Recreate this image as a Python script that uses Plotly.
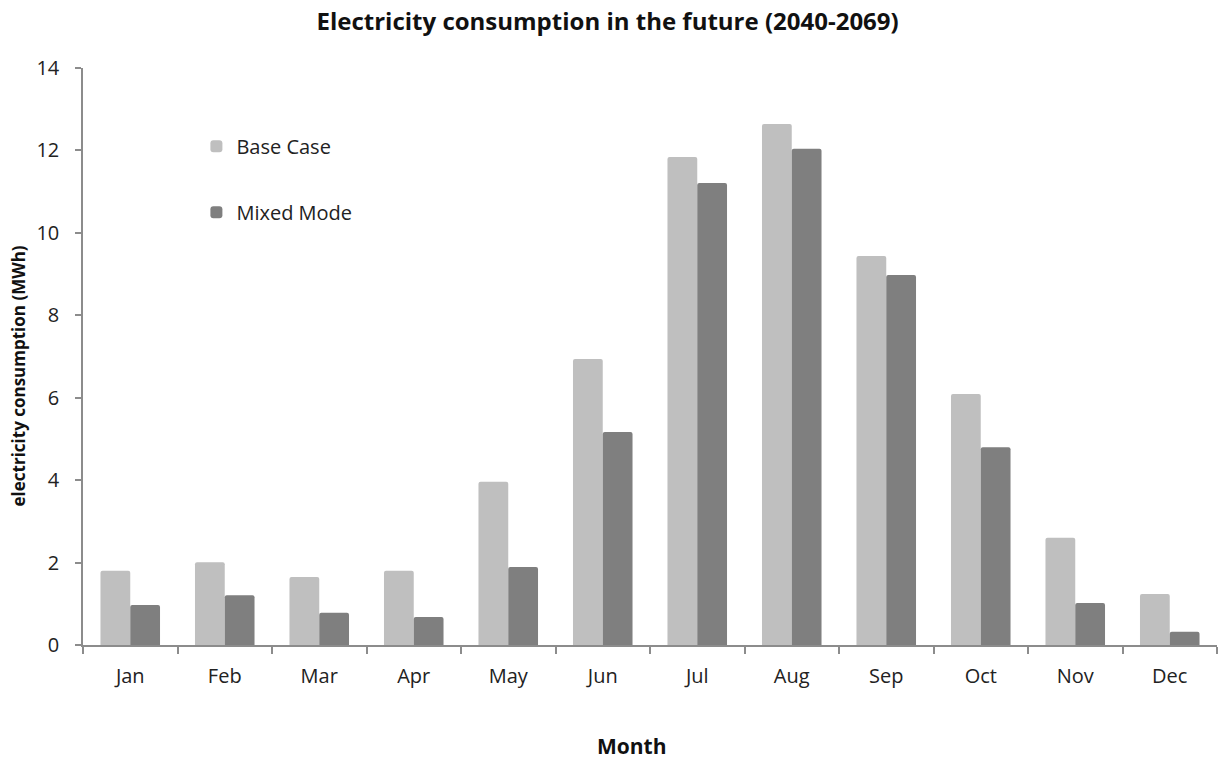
import plotly.graph_objects as go

# Monthly electricity consumption (MWh), 2040-2069 projection
months = ["Jan", "Feb", "Mar", "Apr", "May", "Jun", "Jul", "Aug", "Sep", "Oct", "Nov", "Dec"]
base_case = [1.80, 2.01, 1.65, 1.80, 3.96, 6.94, 11.84, 12.64, 9.44, 6.09, 2.60, 1.24]
mixed_mode = [0.97, 1.21, 0.78, 0.68, 1.89, 5.17, 11.21, 12.04, 8.98, 4.80, 1.02, 0.32]
y_ticks = [0, 2, 4, 6, 8, 10, 12, 14]

FONT = "Open Sans, Liberation Sans, sans-serif"
AXIS_GREY = "#8c8c8c"

fig = go.Figure()
fig.add_trace(go.Bar(x=months, y=base_case, name="Base Case",
                     marker=dict(color="#bfbfbf", line=dict(width=0)),
                     legendgroup="base"))
fig.add_trace(go.Bar(x=months, y=mixed_mode, name="Mixed Mode",
                     marker=dict(color="#7f7f7f", line=dict(width=0)),
                     legendgroup="mixed"))

fig.update_layout(
    width=1225, height=759,
    margin=dict(l=83, r=8, t=68, b=114),
    paper_bgcolor="white", plot_bgcolor="white",
    barmode="group", bargap=0.37, bargroupgap=0.0, barcornerradius=2,
    font=dict(family=FONT, size=19, color="#222222"),
    title=dict(text="<b>Electricity consumption in the future (2040-2069)</b>",
               x=0.496, xref="container", xanchor="center",
               y=0.971, yref="container", yanchor="middle",
               font=dict(size=24, color="#111111")),
    showlegend=True,
    legend=dict(x=0.1, y=0.898, xanchor="left", yanchor="top",
                bgcolor="rgba(0,0,0,0)", tracegroupgap=37,
                font=dict(size=20, color="#222222"),
                itemwidth=30),
    xaxis=dict(
        showline=True, linecolor=AXIS_GREY, linewidth=1.5,
        ticks="outside", tickson="boundaries", ticklen=7,
        tickcolor=AXIS_GREY, tickwidth=1.5,
        ticklabelstandoff=12, showgrid=False, zeroline=False,
        tickfont=dict(size=20),
    ),
    yaxis=dict(
        range=[0, 14], tickvals=y_ticks, showline=True,
        linecolor=AXIS_GREY, linewidth=1.5,
        ticks="outside", ticklen=6, tickcolor=AXIS_GREY, tickwidth=1.5,
        ticklabelstandoff=12, showgrid=False, zeroline=False,
        tickfont=dict(size=20),
    ),
)

# Axis titles placed as annotations
fig.add_annotation(text="<b>electricity consumption (MWh)</b>",
                   xref="paper", yref="paper", x=-0.0565, y=0.467,
                   textangle=-90, showarrow=False,
                   xanchor="center", yanchor="middle",
                   font=dict(size=17, color="#111111"))
fig.add_annotation(text="<b>Month</b>", xref="paper", yref="paper",
                   x=0.484, y=-0.175, showarrow=False,
                   xanchor="center", yanchor="middle",
                   font=dict(size=21, color="#111111"))

fig.write_html("out.html")
